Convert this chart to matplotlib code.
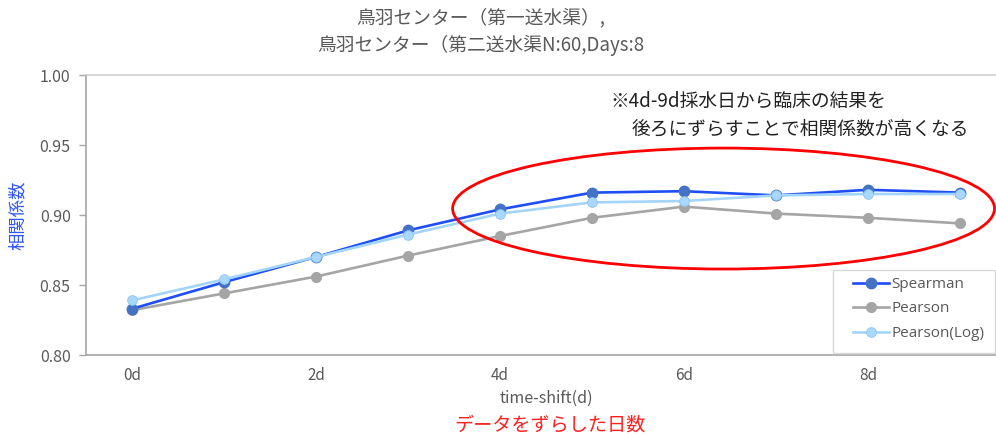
"""
plot.py

Time-shift correlation chart (Spearman / Pearson / Pearson(Log)).
"""

import matplotlib
matplotlib.use("Agg")
import matplotlib.pyplot as plt
from matplotlib.patches import Ellipse, Rectangle

plt.rcParams["font.family"] = ["Noto Sans CJK JP", "DejaVu Sans"]

SHIFT_DAYS = [0, 1, 2, 3, 4, 5, 6, 7, 8, 9]
TICK_DAYS = [0, 2, 4, 6, 8]
TICK_LABELS = ["0d", "2d", "4d", "6d", "8d"]

SPEARMAN = [0.833, 0.852, 0.870, 0.889, 0.904, 0.916, 0.917, 0.914, 0.918, 0.916]
PEARSON = [0.832, 0.844, 0.856, 0.871, 0.885, 0.898, 0.906, 0.901, 0.898, 0.894]
PEARSON_LOG = [0.839, 0.854, 0.870, 0.886, 0.901, 0.909, 0.910, 0.914, 0.915, 0.915]

TITLE_LINES = ["鳥羽センター（第一送水渠）,", "鳥羽センター（第二送水渠N:60,Days:8"]
NOTE_LINES = ["※4d-9d採水日から臨床の結果を", "後ろにずらすことで相関係数が高くなる"]

W, H = 996, 437


def main():

    fig = plt.figure(figsize=(W / 100, H / 100), dpi=100)

    # axes spans past the right edge, like the cropped original
    ax = fig.add_axes([86 / W, (H - 355) / H, 920 / W, 280 / H])

    ax.plot(SHIFT_DAYS, SPEARMAN, color="#1F4EF5", lw=1.9, marker="o",
            ms=7.5, mfc="#4472C4", mec="#4472C4", label="Spearman", zorder=4)
    ax.plot(SHIFT_DAYS, PEARSON, color="#A5A5A5", lw=1.9, marker="o",
            ms=7, mfc="#A5A5A5", mec="#A5A5A5", label="Pearson", zorder=3)
    ax.plot(SHIFT_DAYS, PEARSON_LOG, color="#A3D5FA", lw=1.9, marker="o",
            ms=7, mfc="#A9D8FF", mec="#8CC4F0", mew=0.6, label="Pearson(Log)", zorder=5)

    ax.set_xlim(-0.5, 9.5)
    ax.set_ylim(0.80, 1.00)
    ax.set_xticks(TICK_DAYS)
    ax.set_xticklabels(TICK_LABELS)
    ax.set_yticks([0.80, 0.85, 0.90, 0.95, 1.00])
    ax.set_yticklabels(["0.80", "0.85", "0.90", "0.95", "1.00"])

    ax.tick_params(axis="x", length=0, pad=9, labelsize=11, labelcolor="#595959")
    ax.tick_params(axis="y", length=5, width=1, color="#A6A6A6", pad=6,
                   labelsize=11.5, labelcolor="#595959")

    for side in ["left", "bottom"]:
        ax.spines[side].set_color("#A6A6A6")
        ax.spines[side].set_linewidth(1.2)
    ax.spines["top"].set_color("#D0D0D0")
    ax.spines["top"].set_linewidth(1.2)
    ax.spines["right"].set_visible(False)

    ax.set_xlabel("time-shift(d)", fontsize=11.5, color="#595959", labelpad=4)

    ell = Ellipse((6.43, 0.9046), width=5.89, height=0.0864, fill=False,
                  edgecolor="#FF0000", lw=2, zorder=6)
    ax.add_patch(ell)

    # legend frame drawn separately so its size matches the original box
    frame = Rectangle((833 / W, (H - 353) / H), 162 / W, 83 / H,
                      transform=fig.transFigure, facecolor="white",
                      edgecolor="#D9D9D9", lw=1, zorder=7, clip_on=False)
    ax.add_artist(frame)

    leg = ax.legend(loc="upper left", bbox_to_anchor=(853 / W, (H - 277) / H),
                    bbox_transform=fig.transFigure, fontsize=11, frameon=False,
                    handlelength=2.35, labelspacing=0.62, borderpad=0,
                    handletextpad=0.15, borderaxespad=0)
    leg.set_zorder(8)
    for t in leg.get_texts():
        t.set_color("#595959")
        t.set_family(["Open Sans", "DejaVu Sans"])

    fig.text(481 / W, 1 - 18 / H, TITLE_LINES[0], ha="center", va="center",
             fontsize=13.5, color="#595959")
    fig.text(481 / W, 1 - 45 / H, TITLE_LINES[1], ha="center", va="center",
             fontsize=13.5, color="#595959")

    fig.text(18 / W, 1 - 215 / H, "相関係数", rotation=90, ha="center",
             va="center", fontsize=12.5, color="#2F55F5")

    fig.text(610 / W, 1 - 101 / H, NOTE_LINES[0], ha="left", va="center",
             fontsize=13.5, color="#222222")
    fig.text(632 / W, 1 - 129 / H, NOTE_LINES[1], ha="left", va="center",
             fontsize=13.5, color="#222222")

    fig.text(550 / W, 1 - 425 / H, "データをずらした日数", ha="center",
             va="center", fontsize=13.8, color="#FF2020")

    fig.savefig("out.png", dpi=100)
    plt.close(fig)


if __name__ == "__main__":
    main()
